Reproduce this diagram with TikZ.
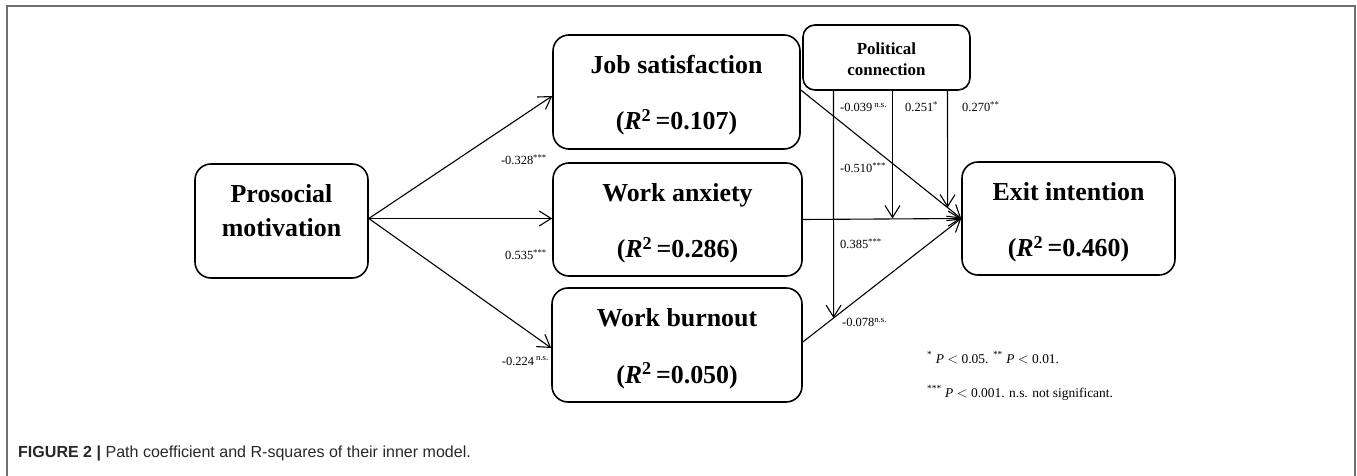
\documentclass[tikz,border=0pt]{standalone}
\usepackage{fontspec}
\setmainfont{Liberation Serif}
\newfontfamily\capfont{Liberation Sans}
\usetikzlibrary{arrows.meta,calc}
\definecolor{framegray}{RGB}{112,112,112}
\definecolor{capgray}{RGB}{40,40,40}
\tikzset{
  mbox/.style={draw, line width=1.6bp, rounded corners=16bp, inner sep=0pt},
  bigtxt/.style={font=\fontsize{26}{30}\selectfont\bfseries, inner sep=0pt, anchor=base},
  poltxt/.style={font=\fontsize{17}{20}\selectfont\bfseries, inner sep=0pt, anchor=base},
  coef/.style={font=\fontsize{12.5}{14}\selectfont, inner sep=0pt},
  legtxt/.style={font=\fontsize{13.5}{16}\selectfont, inner sep=0pt, anchor=base west},
  arr/.style={line width=1.1bp, -{Straight Barb[length=12bp,width=15bp,line width=1.1bp]}},
}
\newcommand{\rsq}[1]{(\textit{R}\textsuperscript{2}\,=#1)}
\begin{document}
\begin{tikzpicture}[x=1bp,y=-1bp]
\useasboundingbox (0,0) rectangle (1357,476);
% frame
\draw[framegray, line width=2bp] (7,476) -- (7,6) -- (1355,6) -- (1355,476);

% boxes
\node[mbox, minimum width=173bp, minimum height=114bp] (pro) at (281.5,221) {};
\node[mbox, minimum width=247bp, minimum height=114bp] (job) at (676.5,92) {};
\node[mbox, minimum width=249bp, minimum height=113bp] (anx) at (677.5,219.5) {};
\node[mbox, minimum width=250bp, minimum height=114bp] (bur) at (677,345) {};
\node[mbox, minimum width=213bp, minimum height=113bp] (exit) at (1068.5,218.5) {};
\node[mbox, rounded corners=12bp, minimum width=167bp, minimum height=65bp] (pol) at (886.5,57.5) {};

% box texts
\node[bigtxt] (pro1) at (281.5,203) {Prosocial};
\node[bigtxt] (pro2) at (281.5,237) {motivation};
\node[bigtxt] (job1) at (676.5,74) {Job satisfaction};
\node[bigtxt] (job2) at (676.5,130) {\rsq{0.107}};
\node[bigtxt] (anx1) at (677.5,202) {Work anxiety};
\node[bigtxt] (anx2) at (677.5,258) {\rsq{0.286}};
\node[bigtxt] (bur1) at (677,327) {Work burnout};
\node[bigtxt] (bur2) at (677,383) {\rsq{0.050}};
\node[bigtxt] (ext1) at (1068.5,201) {Exit intention};
\node[bigtxt] (ext2) at (1068.5,257) {\rsq{0.460}};
\node[poltxt] (pol1) at (886.5,54.5) {Political};
\node[poltxt] (pol2) at (886.5,75.5) {connection};

% connector end points
\coordinate (ps) at ($(pro.east)+(0,-2.5)$);
\coordinate (ew) at ($(exit.west)+(0,0)$);
\coordinate (js) at ($(job.east)+(0,-2)$);
\coordinate (as) at (ps -| anx.east);
\coordinate (bs) at ($(bur.east)+(0,-3)$);
\coordinate (m1s) at (833.5,90);
\coordinate (m1d) at (833.5,400);
\coordinate (m2s) at (892.5,90);
\coordinate (m3s) at (947.5,90);
\coordinate (m3d) at (947.5,400);
\coordinate (m1e) at (intersection of bs--ew and m1s--m1d);
\coordinate (m2e) at (m2s |- ew);
\coordinate (m3e) at (intersection of js--ew and m3s--m3d);

% paths from prosocial motivation
\draw[arr] (ps) -- ($(job.west)+(0,4)$);
\draw[arr] (ps) -- (ps -| anx.west);
\draw[arr] (ps) -- ($(bur.west)+(0,3)$);

% paths to exit intention
\draw[arr] (js) -- (ew);
\draw[arr] (anx.east) -- (ew);
\draw[arr] (bs) -- (ew);

% moderation
\draw[arr] (m1s) -- (m1e);
\draw[arr] (m2s) -- (m2e);
\draw[arr] (m3s) -- (m3e);

% coefficient labels
\node[coef, anchor=base east] (c1) at (547,165) {-0.328\textsuperscript{***}};
\node[coef, anchor=base east] (c2) at (547,260) {0.535\textsuperscript{***}};
\node[coef, anchor=base east] (c3) at (549,365) {-0.224\,\textsuperscript{n.s.}};
\node[coef, anchor=base west] (c4) at (840,112) {-0.039\,\textsuperscript{n.s.}};
\node[coef, anchor=base west] (c5) at (905,112) {0.251\textsuperscript{*}};
\node[coef, anchor=base west] (c6) at (962,112) {0.270\textsuperscript{**}};
\node[coef, anchor=base west] (c7) at (840,173) {-0.510\textsuperscript{***}};
\node[coef, anchor=base west] (c8) at (840,249) {0.385\textsuperscript{***}};
\node[coef, anchor=base west] (c9) at (842,327) {-0.078\textsuperscript{n.s.}};

% legend
\node[legtxt] (leg1) at (927,363) {\textsuperscript{*} \textit{P} $<$ 0.05. \textsuperscript{**} \textit{P} $<$ 0.01.};
\node[legtxt] (leg2) at (927,397) {\textsuperscript{***} \textit{P} $<$ 0.001. n.s. not significant.};

% caption
\node[anchor=base west, inner sep=0pt, text=capgray, font=\capfont\fontsize{16.1}{19}\selectfont] (cap) at (18,457) {\textbf{FIGURE 2 |} Path coefficient and R-squares of their inner model.};
\end{tikzpicture}
\end{document}
